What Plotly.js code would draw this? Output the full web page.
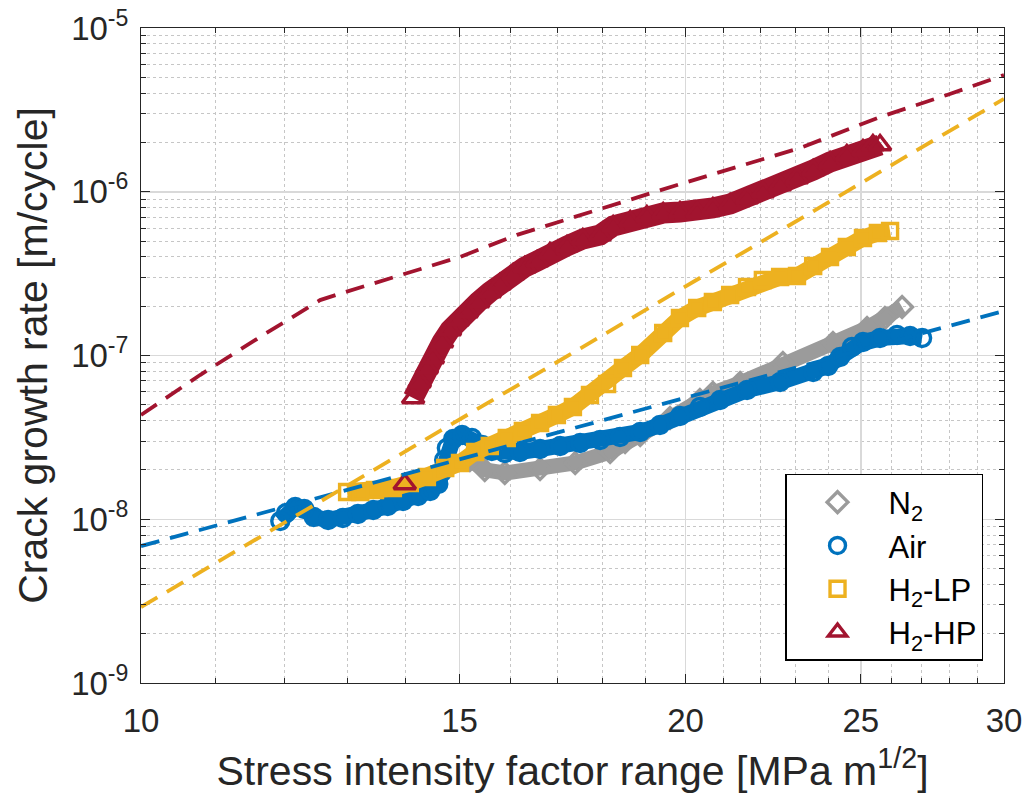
<!DOCTYPE html>
<html>
<head>
<meta charset="utf-8">
<script src="https://cdn.plot.ly/plotly-3.0.1.min.js"></script>
<style>
html,body{margin:0;padding:0;background:#ffffff;}
#chart{width:1030px;height:799px;}
</style>
</head>
<body>
<div id="chart"></div>
<script>
// ---- data (ΔK in MPa m^1/2, da/dN in m/cycle) ----
const n2X = [15.20, 15.49, 15.89, 16.62, 17.38, 18.17, 18.52, 18.88, 19.61, 20.37, 20.71, 21.44, 22.64, 24.13, 25.20, 25.78, 26.35];
const n2Y = [2.300e-8, 2.000e-8, 1.916e-8, 2.027e-8, 2.205e-8, 2.575e-8, 2.963e-8, 3.269e-8, 4.153e-8, 5.348e-8, 5.902e-8, 6.795e-8, 9.00e-8, 1.192e-7, 1.472e-7, 1.694e-7, 1.978e-7];

const airX = [11.94, 12.03, 12.17, 12.31, 12.46, 12.69, 12.93, 13.18, 13.44, 13.69, 13.96, 14.23, 14.45, 14.60, 14.67, 14.71, 14.76, 14.88, 15.05, 15.24, 15.44, 15.63, 15.89, 16.20, 16.62, 17.05, 17.49, 17.94, 18.40, 18.88, 19.36, 19.86, 20.37, 20.90, 21.63, 22.56, 23.53, 23.98, 24.35, 24.72, 25.07, 25.62, 26.18, 26.62, 27.03];
const airY = [9.76e-9, 1.092e-8, 1.188e-8, 1.155e-8, 1.032e-8, 9.89e-9, 1.018e-8, 1.076e-8, 1.139e-8, 1.205e-8, 1.292e-8, 1.387e-8, 1.488e-8, 1.642e-8, 1.943e-8, 2.300e-8, 2.722e-8, 3.090e-8, 3.269e-8, 3.134e-8, 2.840e-8, 2.611e-8, 2.539e-8, 2.575e-8, 2.685e-8, 2.801e-8, 2.921e-8, 3.048e-8, 3.178e-8, 3.410e-8, 3.764e-8, 4.272e-8, 4.846e-8, 5.348e-8, 6.155e-8, 6.886e-8, 7.929e-8, 8.627e-8, 9.790e-8, 1.127e-7, 1.209e-7, 1.279e-7, 1.334e-7, 1.315e-7, 1.279e-7];

const lpX = [13.00, 13.22, 13.47, 13.78, 14.08, 14.39, 14.73, 15.01, 15.30, 15.59, 15.93, 16.26, 16.62, 16.98, 17.33, 17.71, 18.10, 18.47, 18.88, 19.44, 19.86, 20.30, 20.71, 21.17, 21.63, 22.07, 22.56, 23.05, 23.53, 24.04, 24.56, 25.07, 25.55, 25.95];
const lpY = [1.467e-8, 1.467e-8, 1.509e-8, 1.552e-8, 1.665e-8, 1.811e-8, 2.056e-8, 2.205e-8, 2.575e-8, 2.801e-8, 3.134e-8, 3.458e-8, 3.871e-8, 4.330e-8, 4.846e-8, 5.739e-8, 6.698e-8, 8.388e-8, 1.007e-7, 1.372e-7, 1.694e-7, 1.950e-7, 2.121e-7, 2.342e-7, 2.620e-7, 2.891e-7, 3.015e-7, 3.058e-7, 3.521e-7, 3.995e-7, 4.599e-7, 5.220e-7, 5.598e-7, 5.757e-7];

const hpX = [13.99, 14.14, 14.26, 14.39, 14.50, 14.67, 14.82, 14.97, 15.14, 15.36, 15.59, 15.79, 16.06, 16.30, 16.56, 16.83, 17.20, 17.55, 17.94, 18.24, 18.64, 19.04, 19.44, 19.86, 20.30, 20.71, 21.17, 21.63, 22.07, 22.56, 23.05, 23.53, 24.04, 24.56, 25.07, 25.39, 25.62];
const hpY = [1.642e-8, 5.500e-8, 6.886e-8, 8.388e-8, 9.66e-8, 1.209e-7, 1.431e-7, 1.647e-7, 1.843e-7, 2.121e-7, 2.442e-7, 2.733e-7, 3.146e-7, 3.472e-7, 3.777e-7, 4.225e-7, 4.664e-7, 5.146e-7, 5.445e-7, 6.178e-7, 6.629e-7, 7.111e-7, 7.418e-7, 7.523e-7, 7.523e-7, 7.959e-7, 8.418e-7, 9.158e-7, 9.965e-7, 1.100e-6, 1.213e-6, 1.357e-6, 1.519e-6, 1.676e-6, 1.799e-6, 1.930e-6, 1.930e-6];

// fitted curves (dashed)
const fitAirX = [10, 30];
const fitAirY = [6.86e-9, 1.87e-7];
const fitLpX = [10, 30];
const fitLpY = [2.91e-9, 3.69e-6];
const fitHpX = [10, 10.78, 11.64, 12.56, 12.97, 13.91, 15.01, 16.14, 17.64, 19.79, 23.14, 25.62, 27.90, 30];
const fitHpY = [4.33e-8, 7.60e-8, 1.30e-7, 2.18e-7, 2.44e-7, 3.10e-7, 4.00e-7, 5.45e-7, 7.42e-7, 1.10e-6, 1.85e-6, 2.86e-6, 3.90e-6, 5.16e-6];

// ticks
const xTickVals = [10, 15, 20, 25, 30];
const xTickText = ['10', '15', '20', '25', '30'];
const yTickVals = [1e-9, 1e-8, 1e-7, 1e-6, 1e-5];
const yTickText = ['10<sup>-9</sup>', '10<sup>-8</sup>', '10<sup>-7</sup>', '10<sup>-6</sup>', '10<sup>-5</sup>'];

const seriesNames = ['N<sub>2</sub>', 'Air', 'H<sub>2</sub>-LP', 'H<sub>2</sub>-HP'];

// ---- styling ----
const FONT = 'Liberation Sans, Arial, Helvetica, sans-serif';
const TXT = '#262626';
const cGray = '#9b9b9b', cBlue = '#0072BD', cYel = '#EDB120', cRed = '#A2142F';

const xMinor = [];
for (let v = 11; v < 30; v++) if (xTickVals.indexOf(v) < 0) xMinor.push(v);
const yMinor = [];
for (let e = -9; e < -5; e++) for (let k = 2; k <= 9; k++) yMinor.push(k * Math.pow(10, e));

function band(x, y, color, w) {
  return {x: x, y: y, type: 'scatter', mode: 'lines', showlegend: false, hoverinfo: 'skip',
          line: {color: color, width: w}};
}
function pts(x, y, color, sym, size, name, grp) {
  return {x: x, y: y, type: 'scatter', mode: 'markers', name: name, legendgroup: grp,
          marker: {symbol: sym, size: size, color: color, line: {color: color, width: 3.4}}};
}
function fit(x, y, color) {
  return {x: x, y: y, type: 'scatter', mode: 'lines', showlegend: false, hoverinfo: 'skip',
          line: {color: color, width: 3.8, dash: '19px,11px'}};
}

const data = [
  band(n2X, n2Y, cGray, 15),
  pts(n2X, n2Y, cGray, 'diamond-open', 16, seriesNames[0], 'g1'),
  band(airX, airY, cBlue, 16),
  pts(airX, airY, cBlue, 'circle-open', 17, seriesNames[1], 'g2'),
  band(lpX, lpY, cYel, 17),
  pts(lpX, lpY, cYel, 'square-open', 15, seriesNames[2], 'g3'),
  band(hpX.slice(1), hpY.slice(1), cRed, 21),
  pts(hpX, hpY, cRed, 'triangle-up-open', 19, seriesNames[3], 'g4'),
  fit(fitAirX, fitAirY, cBlue),
  fit(fitLpX, fitLpY, cYel),
  fit(fitHpX, fitHpY, cRed)
];

const axisCommon = {
  type: 'log', tickmode: 'array', ticks: 'inside', ticklen: 9, tickwidth: 1, tickcolor: TXT,
  showline: true, linecolor: TXT, linewidth: 1, mirror: 'allticks', zeroline: false,
  showgrid: true, gridcolor: '#d9d9d9', gridwidth: 1.5,
  tickfont: {family: FONT, size: 33, color: TXT}
};

const layout = {
  width: 1030, height: 799,
  margin: {l: 141, r: 26, t: 28, b: 116},
  paper_bgcolor: '#ffffff', plot_bgcolor: '#ffffff',
  font: {family: FONT, color: TXT},
  showlegend: true,
  xaxis: Object.assign({}, axisCommon, {
    range: [1, Math.log10(30)], tickvals: xTickVals, ticktext: xTickText,
    ticklabelstandoff: 8,
    minor: {tickmode: 'array', tickvals: xMinor, ticks: 'inside', ticklen: 5, tickcolor: TXT,
            showgrid: true, gridcolor: '#c6c6c6', griddash: 'dot', gridwidth: 1},
    title: {text: 'Stress intensity factor range [MPa m<sup>1/2</sup>]', font: {family: FONT, size: 41, color: TXT}, standoff: 18}
  }),
  yaxis: Object.assign({}, axisCommon, {
    range: [-9, -5], tickvals: yTickVals, ticktext: yTickText,
    ticklabelstandoff: 5,
    minor: {tickmode: 'array', tickvals: yMinor, ticks: 'inside', ticklen: 5, tickcolor: TXT,
            showgrid: true, gridcolor: '#c6c6c6', griddash: 'dot', gridwidth: 1},
    title: {text: 'Crack growth rate [m/cycle]', font: {family: FONT, size: 41, color: TXT}, standoff: 10}
  }),
  legend: {
    x: 0.9757, y: 0.0336, xanchor: 'right', yanchor: 'bottom',
    bgcolor: '#ffffff', bordercolor: '#000000', borderwidth: 1.5,
    font: {family: FONT, size: 31, color: '#000000'},
    itemwidth: 92, tracegroupgap: 15, traceorder: 'normal'
  }
};

Plotly.newPlot('chart', data, layout, {staticPlot: true, displayModeBar: false});
</script>
</body>
</html>
